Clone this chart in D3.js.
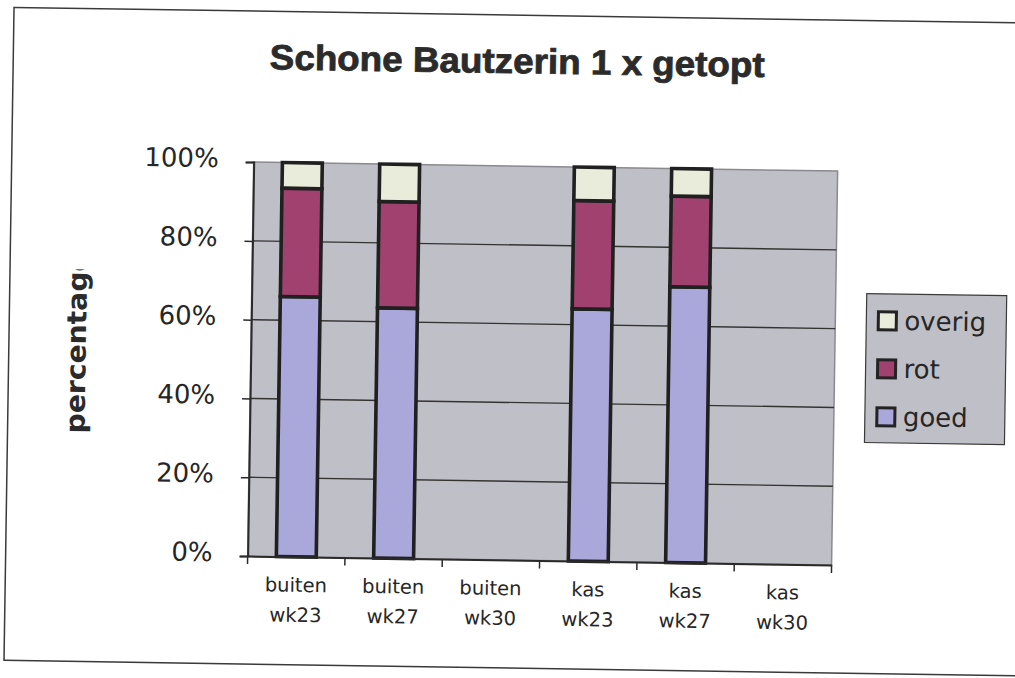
<!DOCTYPE html>
<html>
<head>
<meta charset="utf-8">
<script src="https://cdn.jsdelivr.net/npm/d3@7"></script>
<style>
  html, body { margin: 0; padding: 0; background: #ffffff; }
  svg { display: block; }
</style>
</head>
<body>
<svg id="chart" width="1015" height="678"></svg>
<script>
// ---- data ----
const categories = ["buiten wk23", "buiten wk27", "buiten wk30", "kas wk23", "kas wk27", "kas wk30"];
const goed   = [66, 63.5, 0, 64, 70, 0];
const rot    = [27.5, 27, 0, 27.5, 23, 0];
const overig = [6.5, 9.5, 0, 8.5, 7, 0];
const seriesNames = ["goed", "rot", "overig"];
const yTicks = [0, 20, 40, 60, 80, 100];
const titleText = "Schone Bautzerin 1 x getopt";
const yLabel = "percentage";

// ---- layout ----
const W = 1015, H = 678;
const plot = { left: 251, top: 166, right: 835, bottom: 560 };
const colors = { goed: "#aaa7da", rot: "#a1416f", overig: "#e9ecdb" };
const plotBg = "#bfbfc7";
const ink = "#262626";

const svg = d3.select("#chart");
svg.append("rect").attr("width", W).attr("height", H).attr("fill", "#ffffff");

// the scan is slightly rotated clockwise
const g = svg.append("g").attr("transform", "rotate(0.88, 507, 339)");

// outer chart frame
g.append("rect")
  .attr("x", 9).attr("y", 15).attr("width", 1040).attr("height", 653)
  .attr("fill", "none").attr("stroke", "#3a3a3a").attr("stroke-width", 1.5);

// title
g.append("text")
  .attr("x", 513).attr("y", 73)
  .attr("text-anchor", "middle")
  .attr("font-family", "'Liberation Sans', Arial, sans-serif")
  .attr("font-weight", "bold")
  .attr("font-size", 35)
  .attr("fill", "#2b2b2b")
  .attr("stroke", "#2b2b2b").attr("stroke-width", 0.8)
  .attr("textLength", 495)
  .attr("lengthAdjust", "spacingAndGlyphs")
  .text(titleText);

// scales
const x = d3.scaleBand().domain(categories)
  .range([plot.left, plot.right]).paddingInner(0.59).paddingOuter(0.295);
const y = d3.scaleLinear().domain([0, 100]).range([plot.bottom, plot.top]);

// plot area
g.append("rect")
  .attr("x", plot.left).attr("y", plot.top)
  .attr("width", plot.right - plot.left).attr("height", plot.bottom - plot.top)
  .attr("fill", plotBg).attr("stroke", "#8a8a8e").attr("stroke-width", 1.5);

// gridlines
g.append("g").selectAll("line")
  .data(yTicks.filter(t => t > 0 && t < 100))
  .join("line")
  .attr("x1", plot.left).attr("x2", plot.right)
  .attr("y1", d => y(d)).attr("y2", d => y(d))
  .attr("stroke", "#333333").attr("stroke-width", 1.4);

// stacked bars
const rows = categories.map((c, i) => ({ cat: c, goed: goed[i], rot: rot[i], overig: overig[i] }));
const stack = d3.stack().keys(seriesNames)(rows);
const barG = g.append("g");
stack.forEach(layer => {
  barG.selectAll(null)
    .data(layer.filter(d => d[1] - d[0] > 0))
    .join("rect")
    .attr("x", d => x(d.data.cat))
    .attr("width", x.bandwidth())
    .attr("y", d => y(d[1]))
    .attr("height", d => y(d[0]) - y(d[1]))
    .attr("fill", colors[layer.key])
    .attr("stroke", "#202020")
    .attr("stroke-width", 3.6);
});

// y axis
const yAxis = g.append("g")
  .attr("transform", `translate(${plot.left},0)`)
  .call(d3.axisLeft(y).tickValues(yTicks).tickFormat(d => d + "%").tickSize(8).tickPadding(27));
yAxis.select(".domain").attr("stroke", "#2a2a2a").attr("stroke-width", 2);
yAxis.selectAll(".tick line").attr("stroke", "#2a2a2a").attr("stroke-width", 1.5);
yAxis.selectAll(".tick text")
  .attr("font-family", "'DejaVu Sans', sans-serif")
  .attr("font-size", 26)
  .attr("fill", ink)
  .attr("dy", "0.2em");

// x axis
const xAxis = g.append("g")
  .attr("transform", `translate(0,${plot.bottom})`)
  .call(d3.axisBottom(x).tickSize(0).tickFormat(""));
xAxis.select(".domain").attr("stroke", "#2a2a2a").attr("stroke-width", 2);
// boundary ticks between categories
const bounds = d3.range(categories.length + 1).map(i => plot.left + i * x.step());
g.append("g").selectAll("line")
  .data(bounds)
  .join("line")
  .attr("x1", d => d).attr("x2", d => d)
  .attr("y1", plot.bottom).attr("y2", plot.bottom + 8)
  .attr("stroke", "#2a2a2a").attr("stroke-width", 1.5);
// two-line category labels
const xl = g.append("g").selectAll("text")
  .data(categories)
  .join("text")
  .attr("text-anchor", "middle")
  .attr("font-family", "'DejaVu Sans', sans-serif")
  .attr("font-size", 19.5)
  .attr("fill", ink)
  .attr("transform", d => `translate(${x(d) + x.bandwidth() / 2},595)`);
xl.each(function(d) {
  const parts = d.split(" ");
  const t = d3.select(this);
  t.append("tspan").attr("x", 0).attr("y", 0).text(parts[0]);
  t.append("tspan").attr("x", 0).attr("y", 30).text(parts[1]);
});

// y axis title (clipped at the top like the original)
g.append("clipPath").attr("id", "ylabclip")
  .append("rect").attr("x", 40).attr("y", 276).attr("width", 80).attr("height", 200);
g.append("g").attr("clip-path", "url(#ylabclip)")
  .append("text")
  .attr("transform", "translate(86,440) rotate(-90)")
  .attr("font-family", "'DejaVu Sans', sans-serif")
  .attr("font-weight", "bold")
  .attr("font-size", 27)
  .attr("fill", "#2b2b2b")
  .attr("textLength", 181)
  .attr("lengthAdjust", "spacingAndGlyphs")
  .text(yLabel);

// legend
const legend = g.append("g");
legend.append("rect")
  .attr("x", 866).attr("y", 288).attr("width", 140).attr("height", 149)
  .attr("fill", plotBg).attr("stroke", "#3a3a3a").attr("stroke-width", 1.2);
const legendOrder = seriesNames.slice().reverse();
const legendY = d3.scalePoint().domain(legendOrder).range([315, 411]);
const li = legend.selectAll("g.item")
  .data(legendOrder)
  .join("g").attr("class", "item")
  .attr("transform", d => `translate(878,${legendY(d)})`);
li.append("rect")
  .attr("x", 0).attr("y", -9).attr("width", 18).attr("height", 18)
  .attr("fill", d => colors[d])
  .attr("stroke", "#232323").attr("stroke-width", 3);
li.append("text")
  .attr("x", 26).attr("y", 9)
  .attr("font-family", "'DejaVu Sans', sans-serif")
  .attr("font-size", 26)
  .attr("fill", ink)
  .text(d => d);
</script>
</body>
</html>
